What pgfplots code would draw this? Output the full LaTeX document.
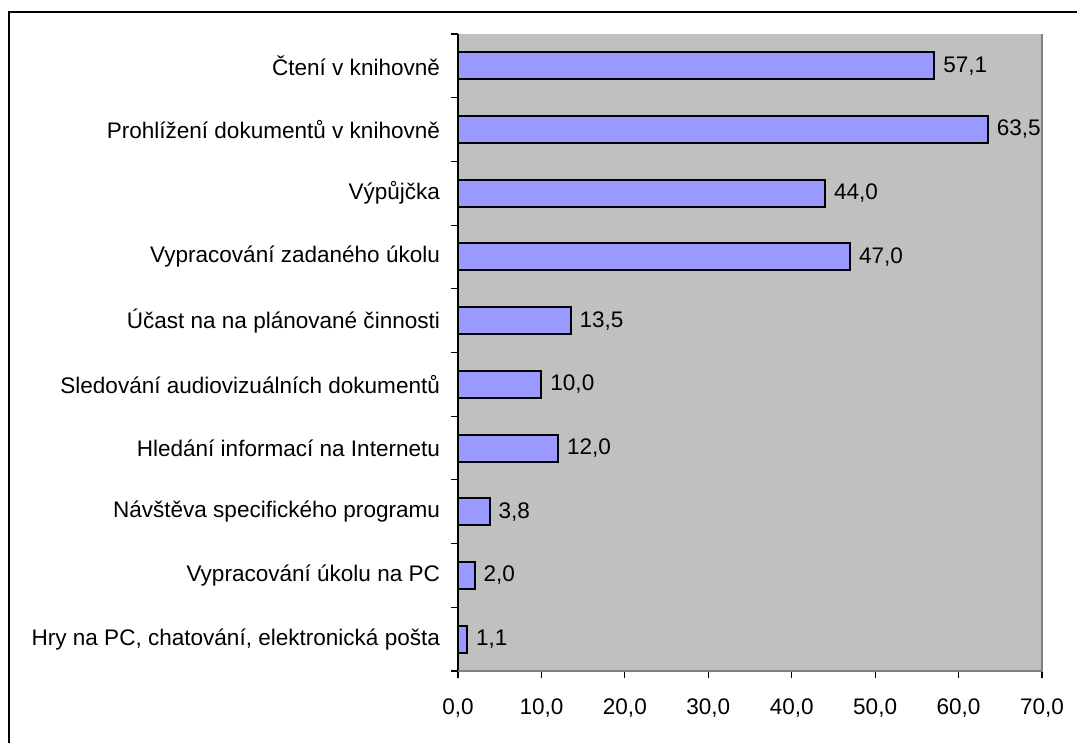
\documentclass[border=0pt]{standalone}
\usepackage{pgfplots}
\pgfplotsset{compat=1.18}
\usepackage{fontspec}
\setmainfont{Liberation Sans}
\definecolor{bgray}{HTML}{C0C0C0}
\definecolor{bbar}{HTML}{9999FF}
\definecolor{dgray}{HTML}{808080}
\newcommand{\lf}{\fontsize{16.9}{19}\selectfont}
\begin{document}
\begin{tikzpicture}
\useasboundingbox (0,0) rectangle (807.75pt,556.5pt);
\draw[line width=1.2pt] (6.75pt,-2pt) -- (6.75pt,547.5pt) -- (810pt,547.5pt);
\begin{axis}[
  at={(343.5pt,53.25pt)}, anchor=south west,
  scale only axis, width=438pt, height=477.75pt,
  xbar, bar width=20.25pt,
  xmin=0, xmax=70, ymin=-0.5, ymax=9.5,
  y dir=reverse,
  axis background/.style={fill=bgray},
  axis x line*=bottom, axis y line*=left,
  axis line style={line width=1pt},
  xtick={0,10,...,70},
  ytick={-0.5,0.5,...,9.5},
  yticklabels={},
  extra y ticks={0,...,9},
  extra y tick labels={Čtení v knihovně, Prohlížení dokumentů v knihovně, Výpůjčka, Vypracování zadaného úkolu, Účast na na plánované činnosti, Sledování audiovizuálních dokumentů, Hledání informací na Internetu, Návštěva specifického programu, Vypracování úkolu na PC, {Hry na PC, chatování, elektronická pošta}},
  extra y tick style={ytick style={draw=none}},
  major tick length=5pt,
  tick align=outside,
  tick style={black, line width=0.8pt},
  yticklabel style={anchor=east, xshift=-5pt, font=\lf},
  xticklabel style={yshift=-12pt, font=\lf},
  /pgf/number format/assume math mode=true,
  /pgf/number format/.cd, fixed, fixed zerofill, precision=1, use comma,
  /pgfplots/.cd,
  nodes near coords,
  nodes near coords style={anchor=west, inner sep=0pt, xshift=6pt, font=\lf, /pgf/number format/.cd, fixed, fixed zerofill, precision=1, use comma, assume math mode=true},
  clip=false,
]
\addplot[fill=bbar, draw=black, line width=1.5pt] coordinates {
(57.1,0) (63.5,1) (44.0,2) (47.0,3) (13.5,4) (10.0,5) (12.0,6) (3.8,7) (2.0,8) (1.1,9)};
\draw[dgray, line width=1.5pt] (rel axis cs:0,0) -- (rel axis cs:1,0) -- (rel axis cs:1,1);
\end{axis}
\end{tikzpicture}
\end{document}
